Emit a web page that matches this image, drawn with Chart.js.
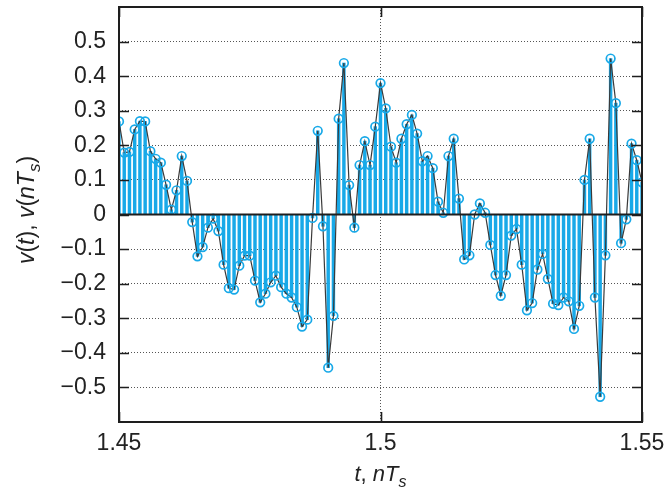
<!DOCTYPE html>
<html>
<head>
<meta charset="utf-8">
<script src="https://cdn.jsdelivr.net/npm/chart.js@4"></script>
<style>
  html, body { margin: 0; padding: 0; background: #fff; }
  #wrap { width: 669px; height: 493px; }
</style>
</head>
<body>
<div id="wrap"><canvas id="chart-canvas" width="669" height="493"></canvas></div>
<script>
// sample instants nT_s (s)
const sampleTimes = [
    1.450, 1.451, 1.452, 1.453, 1.454, 1.455, 1.456, 1.457, 1.458, 1.459,
    1.460, 1.461, 1.462, 1.463, 1.464, 1.465, 1.466, 1.467, 1.468, 1.469,
    1.470, 1.471, 1.472, 1.473, 1.474, 1.475, 1.476, 1.477, 1.478, 1.479,
    1.480, 1.481, 1.482, 1.483, 1.484, 1.485, 1.486, 1.487, 1.488, 1.489,
    1.490, 1.491, 1.492, 1.493, 1.494, 1.495, 1.496, 1.497, 1.498, 1.499,
    1.500, 1.501, 1.502, 1.503, 1.504, 1.505, 1.506, 1.507, 1.508, 1.509,
    1.510, 1.511, 1.512, 1.513, 1.514, 1.515, 1.516, 1.517, 1.518, 1.519,
    1.520, 1.521, 1.522, 1.523, 1.524, 1.525, 1.526, 1.527, 1.528, 1.529,
    1.530, 1.531, 1.532, 1.533, 1.534, 1.535, 1.536, 1.537, 1.538, 1.539,
    1.540, 1.541, 1.542, 1.543, 1.544, 1.545, 1.546, 1.547, 1.548, 1.549,
    1.550
];

// v(nT_s)
const sampleValues = [
    0.269, 0.179, 0.181, 0.246, 0.270, 0.269, 0.183, 0.161, 0.150, 0.086,
    0.014, 0.070, 0.169, 0.097, -0.022, -0.121, -0.094, -0.038, -0.012, -0.048,
    -0.145, -0.213, -0.217, -0.148, -0.119, -0.119, -0.191, -0.254, -0.229, -0.196,
    -0.177, -0.210, -0.229, -0.240, -0.268, -0.324, -0.304, -0.010, 0.242, -0.034,
    -0.443, -0.293, 0.277, 0.438, 0.085, -0.038, 0.143, 0.212, 0.143, 0.254,
    0.380, 0.307, 0.196, 0.150, 0.219, 0.261, 0.288, 0.234, 0.154, 0.169,
    0.134, 0.037, 0.005, 0.169, 0.219, 0.046, -0.130, -0.118, 0.000, 0.032,
    0.005, -0.088, -0.175, -0.235, -0.175, -0.061, -0.042, -0.145, -0.277, -0.256,
    -0.159, -0.114, -0.186, -0.258, -0.262, -0.240, -0.251, -0.331, -0.264, 0.100,
    0.219, -0.240, -0.527, -0.118, 0.451, 0.322, -0.083, -0.014, 0.205, 0.157,
    0.093
];

const xTicks = [1.45, 1.5, 1.55];
const yTicks = [-0.5, -0.4, -0.3, -0.2, -0.1, 0, 0.1, 0.2, 0.3, 0.4, 0.5];

const STEM_BLUE = '#18a9e8';
const points = sampleTimes.map((t, i) => ({ x: t, y: sampleValues[i] }));

function near(a, b) {
    return Math.abs(a - b) < 1e-6;
}

// draw text made of italic / upright / subscript pieces, centred on (0,0)
function drawRichText(ctx, parts, size) {
    const family = '"Liberation Sans", Arial, sans-serif';
    const fontFor = p => `${p.italic ? 'italic ' : ''}${p.sub ? Math.round(size * 0.72) : size}px ${family}`;
    let total = 0;
    parts.forEach(p => {
        ctx.font = fontFor(p);
        p.w = ctx.measureText(p.text).width;
        total += p.w;
    });
    let x = -total / 2;
    parts.forEach(p => {
        ctx.font = fontFor(p);
        ctx.fillText(p.text, x, p.sub ? size * 0.25 : 0);
        x += p.w;
    });
}

const frameAndTitles = {
    id: 'frameAndTitles',
    afterDatasetsDraw(chart) {
        const { ctx, chartArea: a, scales: { x, y } } = chart;
        ctx.save();
        ctx.strokeStyle = '#1e1e1e';

        // zero line
        ctx.lineWidth = 2;
        ctx.beginPath();
        ctx.moveTo(a.left, y.getPixelForValue(0));
        ctx.lineTo(a.right, y.getPixelForValue(0));
        ctx.stroke();

        // inward ticks
        ctx.lineWidth = 1.6;
        yTicks.forEach(v => {
            const py = Math.round(y.getPixelForValue(v)) + 0.5;
            ctx.beginPath();
            ctx.moveTo(a.left, py);
            ctx.lineTo(a.left + 10, py);
            ctx.moveTo(a.right, py);
            ctx.lineTo(a.right - 10, py);
            ctx.stroke();
        });
        xTicks.forEach(v => {
            const px = Math.round(x.getPixelForValue(v)) + 0.5;
            ctx.beginPath();
            ctx.moveTo(px, a.bottom);
            ctx.lineTo(px, a.bottom - 10);
            ctx.moveTo(px, a.top);
            ctx.lineTo(px, a.top + 10);
            ctx.stroke();
        });

        // box
        ctx.lineWidth = 2;
        ctx.strokeRect(a.left, a.top, a.right - a.left, a.bottom - a.top);

        // axis titles
        ctx.fillStyle = '#222';
        ctx.textBaseline = 'alphabetic';
        ctx.save();
        ctx.translate((a.left + a.right) / 2, 481);
        drawRichText(ctx, [
            { text: 't', italic: true },
            { text: ', ' },
            { text: 'nT', italic: true },
            { text: 's', italic: true, sub: true }
        ], 22);
        ctx.restore();

        ctx.save();
        ctx.translate(34, 210);
        ctx.rotate(-Math.PI / 2);
        drawRichText(ctx, [
            { text: 'v', italic: true },
            { text: '(' },
            { text: 't', italic: true },
            { text: '), ' },
            { text: 'v', italic: true },
            { text: '(' },
            { text: 'nT', italic: true },
            { text: 's', italic: true, sub: true },
            { text: ')' }
        ], 23);
        ctx.restore();

        ctx.restore();
    }
};

function drawChart() {
    const ctx = document.getElementById('chart-canvas').getContext('2d');

    window.currentChart = new Chart(ctx, {
        type: 'bar',
        data: {
            datasets: [
                {
                    type: 'scatter',
                    label: 'samples',
                    data: points,
                    showLine: false,
                    pointStyle: 'circle',
                    pointRadius: 4.3,
                    pointBorderWidth: 1.7,
                    pointBorderColor: STEM_BLUE,
                    pointBackgroundColor: 'rgba(255,255,255,0)',
                    order: 0
                },
                {
                    type: 'line',
                    label: 'v(t)',
                    data: points,
                    borderColor: '#3a3a3a',
                    borderWidth: 1.2,
                    pointRadius: 0,
                    tension: 0,
                    order: 1
                },
                {
                    type: 'bar',
                    label: 'stems',
                    data: points,
                    backgroundColor: STEM_BLUE,
                    barThickness: 2.8,
                    order: 2
                }
            ]
        },
        options: {
            responsive: false,
            animation: false,
            events: [],
            layout: { padding: { top: 7, right: 27, left: 0, bottom: 0 } },
            plugins: {
                legend: { display: false },
                tooltip: { enabled: false }
            },
            scales: {
                x: {
                    type: 'linear',
                    min: 1.45,
                    max: 1.55,
                    offset: false,
                    afterBuildTicks: scale => {
                        scale.ticks = xTicks.map(v => ({ value: v }));
                    },
                    afterFit: scale => {
                        scale.height = 71;
                        scale.paddingLeft = 0;
                        scale.paddingRight = 0;
                    },
                    grid: {
                        offset: false,
                        drawTicks: false,
                        lineWidth: 1,
                        color: c => (c.tick && near(c.tick.value, 1.5)) ? '#555' : 'rgba(0,0,0,0)'
                    },
                    border: { display: false, dash: [1, 2] },
                    ticks: {
                        padding: 8,
                        color: '#222',
                        font: { family: '"Liberation Sans", Arial, sans-serif', size: 23 },
                        callback: v => String(v)
                    }
                },
                y: {
                    type: 'linear',
                    min: -0.6,
                    max: 0.6,
                    afterBuildTicks: scale => {
                        scale.ticks = yTicks.map(v => ({ value: v }));
                    },
                    afterFit: scale => {
                        scale.width = 119;
                        scale.paddingTop = 0;
                        scale.paddingBottom = 0;
                    },
                    grid: {
                        drawTicks: false,
                        lineWidth: 1,
                        color: c => (c.tick && !near(c.tick.value, 0)) ? '#555' : 'rgba(0,0,0,0)'
                    },
                    border: { display: false, dash: [1, 2] },
                    ticks: {
                        padding: 13,
                        color: '#222',
                        font: { family: '"Liberation Sans", Arial, sans-serif', size: 23 },
                        callback: v => {
                            const r = Math.round(v * 10) / 10;
                            if (r === 0) return '0';
                            return (r < 0 ? '\u2212' : '') + Math.abs(r).toFixed(1);
                        }
                    }
                }
            }
        },
        plugins: [frameAndTitles]
    });
}

function init() {
    drawChart();
}

document.addEventListener('DOMContentLoaded', init);
</script>
</body>
</html>
